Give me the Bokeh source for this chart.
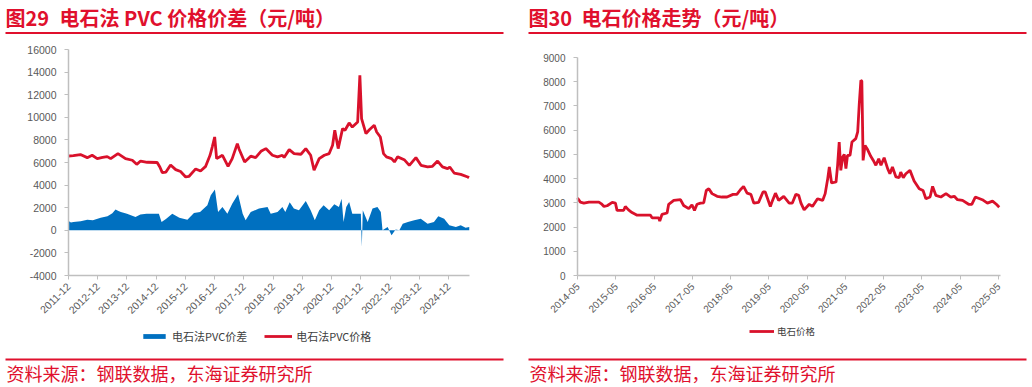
from bokeh.plotting import figure
from bokeh.models import Range1d, FixedTicker, Legend, LegendItem, Label, Arrow
from bokeh.layouts import row
from bokeh.embed import file_html
from bokeh.resources import INLINE

# ---------------- data: left chart (months since 2011-12) ----------------
pvc_month = [0, 2, 4.9, 7.7, 9.7, 11.8, 14, 15.9, 17.3, 20.3, 23.4, 26.2, 28, 29.6, 32.3, 36.4,
             37.5, 38.5, 40, 41.9, 44, 46, 48.1, 49.5, 52.2, 54.2, 56.3, 58.1, 59, 60, 60.8,
             63.2, 65.5, 67.2, 69.3, 70, 72.3, 74.8, 76.8, 79, 81, 83.7, 85.8, 87.8, 88.5,
             90.6, 92.6, 95.4, 97.4, 99.4, 100.8, 102.9, 105, 107, 108.4, 109.3, 110.7, 112.5,
             113.5, 115.2, 116.5, 118.7, 119.6, 120.3, 122.1, 123.5, 125.5, 126.5, 128, 129.3,
             130.5, 132.6, 133.8, 135.1, 137.8, 139.9, 142.6, 144.7, 147.4, 149.4, 151.5,
             153.5, 155.6, 156.5, 158.3, 161, 163.9, 164.4]
pvc_price = [6575, 6600, 6700, 6430, 6640, 6340, 6450, 6520, 6340, 6790, 6340, 6200, 5840, 6130,
             6020, 6000, 5600, 5100, 5150, 5780, 5370, 5200, 4720, 4780, 5430, 5250, 5660, 6640,
             7370, 8260, 6340, 6640, 5660, 6340, 7670, 7200, 6050, 6560, 6430, 6990, 7230, 6640,
             6500, 6640, 6450, 7140, 6790, 6730, 7230, 6640, 5310, 6340, 6640, 6790, 7520, 8850,
             7230, 9000, 8850, 9500, 9140, 9590, 13720, 9880, 8560, 8900, 9290, 8700, 8260, 6790,
             6500, 6340, 6050, 6500, 6250, 5750, 6430, 5750, 5610, 5660, 6130, 5610, 5460, 5600,
             5070, 4950, 4720, 4650]

spread_month = [0, 1, 2, 5, 7.7, 10, 13.2, 16, 18, 19.3, 20.5, 21.5, 24, 27.5, 29.5, 32, 37.1,
                38.2, 40, 42.6, 45.5, 48.8, 51.5, 54, 57, 58.4, 60.1, 61.4, 63.2, 65.2, 67.2,
                69.6, 71.5, 72.7, 74.8, 78.2, 81.7, 83, 85.8, 87.8, 89, 90.8, 92.5, 94.6, 97.4,
                99.4, 101.1, 102.9, 104.7, 107, 109.1, 111, 112.1, 112.9, 114, 115.2, 116.5,
                118.6, 120, 120.4, 120.8, 122.8, 124.8, 126.8, 128.2, 128.9, 131, 132.6, 134.3,
                135.8, 137.2, 139.3, 141.9, 144.6, 147.4, 150, 151.8, 154.2, 156.3, 159, 161,
                163, 164.5]
pvc_spread = [826, 700, 740, 800, 944, 900, 1120, 1240, 1500, 1830, 1700, 1620, 1475, 1180, 1390,
              1475, 1475, 740, 1000, 1475, 1120, 944, 1530, 1620, 2210, 3100, 3600, 1620, 2065,
              1475, 2360, 3186, 1475, 885, 1620, 1920, 2065, 1475, 1620, 2065, 1620, 2480, 1920,
              1770, 2600, 1770, 885, 1770, 2210, 1770, 2300, 2065, 2800, 740, 2065, 2500, 1475,
              1475, 1475, -1475, 1770, 740, 1920, 2065, 1620, 0, 295, -440, 60, 0, 590, 740, 885,
              1030, 590, 740, 1240, 1030, 440, 295, 440, 236, 295]

left_xtick_pos = [0, 12, 24, 36, 48, 60, 72, 84, 96, 108, 120, 132, 144, 156]
left_xtick_labels = ["2011-12", "2012-12", "2013-12", "2014-12", "2015-12", "2016-12", "2017-12",
                     "2018-12", "2019-12", "2020-12", "2021-12", "2022-12", "2023-12", "2024-12"]
left_ytick_vals = [-4000, -2000, 0, 2000, 4000, 6000, 8000, 10000, 12000, 14000, 16000]
left_ytick_labels = ["-4000", "-2000", "0", "2000", "4000", "6000", "8000", "10000", "12000",
                     "14000", "16000"]
left_x_end = 164.6
left_y_min, left_y_max = -4000, 16000

# ---------------- data: right chart (months since 2014-05) ----------------
cc_month = [0, 0.9, 2, 3.6, 6.7, 7.5, 8.3, 9.3, 10.9, 11.9, 12.4, 14.5, 15, 16, 17.1, 18.7, 20.4,
            22.9, 23.4, 25.5, 25.8, 26.5, 28.1, 28.6, 30.2, 32.3, 33.3, 34.9, 35.9, 36.7, 37.5,
            38.6, 39.6, 40.4, 41.2, 42.2, 43.8, 45.3, 46.9, 48.8, 50, 51.1, 52.1, 53.2, 54.4,
            55.3, 56.8, 58.2, 58.9, 60.5, 61, 62.1, 63.1, 64.7, 66.4, 67.4, 68.5, 69.4, 70.1,
            71.1, 72.7, 73.7, 75.3, 76.9, 77.7, 78.5, 79, 79.7, 81.1, 81.6, 82.1, 82.6, 83.2,
            83.7, 84.2, 84.7, 85.5, 86.1, 87.3, 87.9, 88.4, 88.9, 89.2, 89.6, 90.2, 91, 92, 92.8,
            93.6, 94.5, 95.2, 96.2, 97.3, 98, 98.8, 99.9, 100.9, 101.4, 102.2, 103, 104.3, 105.6,
            107.2, 108.4, 109.3, 110.6, 111.4, 112.4, 114, 115.6, 117.1, 118.2, 119.2, 120.8,
            122.7, 123.7, 124.8, 127, 128.6, 130.2, 131.4, 132.3]
cc_price = [3197, 3030, 2990, 3030, 3030, 2960, 2850, 2880, 3020, 2990, 2690, 2690, 2850, 2710,
            2600, 2490, 2490, 2490, 2380, 2380, 2250, 2520, 2580, 2940, 3100, 3130, 2890, 2760,
            2920, 2690, 2940, 2990, 3000, 3510, 3580, 3380, 3270, 3240, 3240, 3350, 3350, 3540,
            3680, 3400, 3350, 2990, 3020, 3450, 3450, 2850, 3030, 3400, 3100, 3270, 2990, 2990,
            3350, 3310, 2990, 2710, 2940, 2850, 3170, 3100, 3380, 4000, 4480, 3820, 3860, 4550,
            5510, 4340, 4890, 5000, 4410, 4960, 4960, 5510, 5650, 5930, 7100, 8060, 8030, 4750,
            5370, 5200, 4920, 4750, 4550, 4820, 4550, 4860, 4410, 4200, 4480, 4070, 4040, 4270,
            4040, 4200, 4340, 3900, 3580, 3510, 3170, 3240, 3680, 3310, 3240, 3380, 3240, 3270,
            3130, 3100, 2940, 2940, 3240, 3130, 2990, 3070, 2940, 2820]

right_xtick_pos = [0, 12, 24, 36, 48, 60, 72, 84, 96, 108, 120, 132]
right_xtick_labels = ["2014-05", "2015-05", "2016-05", "2017-05", "2018-05", "2019-05",
                      "2020-05", "2021-05", "2022-05", "2023-05", "2024-05", "2025-05"]
right_ytick_vals = [0, 1000, 2000, 3000, 4000, 5000, 6000, 7000, 8000, 9000]
right_ytick_labels = ["0", "1000", "2000", "3000", "4000", "5000", "6000", "7000", "8000", "9000"]
right_x_end = 132.7
right_y_min, right_y_max = 0, 9000

title_left = ("图29", "电石法 PVC 价格价差（元/吨）")
title_right = ("图30", "电石价格走势（元/吨）")
source_text = "资料来源：钢联数据，东海证券研究所"
legend_spread = "电石法PVC价差"
legend_pvc = "电石法PVC价格"
legend_cc = "电石价格"

# ---------------- style / layout (pixels) ----------------
RED_TXT = "#e0102d"
RED_LINE = "#d9112b"
BLUE = "#0070c0"
AXIS = "#bfbfbf"
LABEL = "#595959"
CJK = "Noto Sans CJK SC"
LAT = "Liberation Sans"
PANEL_W = 515
PANEL_H = 385


def up(py):
    """convert a pixel distance from the canvas top into Bokeh screen y (from bottom)"""
    return PANEL_H - py


def make_panel(x_end, y_min, y_max, plot_left, plot_right, plot_top, plot_bottom):
    """Frame covers the whole canvas; the data box sits at the given pixel box."""
    sx = (plot_right - plot_left) / x_end
    sy = (plot_bottom - plot_top) / (y_max - y_min)
    xr = Range1d(-plot_left / sx, x_end + (PANEL_W - plot_right) / sx)
    yr = Range1d(y_min - (PANEL_H - plot_bottom) / sy, y_max + plot_top / sy)
    p = figure(width=PANEL_W, height=PANEL_H, x_range=xr, y_range=yr, min_border=0,
               toolbar_location=None, output_backend="svg")
    p.grid.visible = False
    p.outline_line_color = None
    return p


def style_axes(p, xpos, xlabels, yvals, ylabels, x_end, y_min, y_max, fs_y, fs_x):
    p.xaxis.fixed_location = y_min
    p.yaxis.fixed_location = 0
    p.xaxis.bounds = (0, x_end)
    p.yaxis.bounds = (y_min, y_max)
    p.xaxis.ticker = FixedTicker(ticks=xpos)
    p.xaxis.major_label_overrides = {k: v for k, v in zip(xpos, xlabels)}
    p.yaxis.ticker = FixedTicker(ticks=yvals)
    p.yaxis.major_label_overrides = {k: v for k, v in zip(yvals, ylabels)}
    p.xaxis.major_label_orientation = 0.785398
    for ax in (p.xaxis, p.yaxis):
        ax.axis_line_color = AXIS
        ax.axis_line_width = 1.5
        ax.major_tick_line_color = AXIS
        ax.major_tick_in = 0
        ax.major_tick_out = 4
        ax.minor_tick_line_color = None
        ax.major_label_text_color = LABEL
        ax.major_label_text_font = LAT
    p.yaxis.major_label_standoff = 8
    p.xaxis.major_label_standoff = 5
    p.yaxis.major_label_text_font_size = fs_y
    p.xaxis.major_label_text_font_size = fs_x


def decorate(p, title, x_left, x_right, x_title2):
    for txt, xx in ((title[0], x_left), (title[1], x_title2)):
        p.add_layout(Label(x=xx, y=up(16.7), x_units="screen", y_units="screen", text=txt,
                           text_font=CJK, text_font_style="bold", text_font_size="20px",
                           text_color=RED_TXT, text_baseline="middle", text_align="left"))
    for yy in (up(32.5), up(359)):
        p.add_layout(Arrow(x_start=x_left, y_start=yy, x_end=x_right, y_end=yy,
                           start_units="screen", end_units="screen", start=None, end=None,
                           line_color=RED_TXT, line_width=2))
    p.add_layout(Label(x=x_left + 1, y=up(372.5), x_units="screen", y_units="screen",
                       text=source_text, text_font=CJK, text_font_size="18px",
                       text_color=RED_TXT, text_baseline="middle", text_align="left"))


# ---------------- left panel ----------------
pL = make_panel(left_x_end, left_y_min, left_y_max, 68, 469, 49, 275)
style_axes(pL, left_xtick_pos, left_xtick_labels, left_ytick_vals, left_ytick_labels,
           left_x_end, left_y_min, left_y_max, "10.5px", "10.5px")
r_spread = pL.varea(x=spread_month, y1=0, y2=pvc_spread, fill_color=BLUE)
r_pvc = pL.line(pvc_month, pvc_price, line_color=RED_LINE, line_width=2.8)
legL = Legend(items=[LegendItem(label=legend_spread, renderers=[r_spread]),
                     LegendItem(label=legend_pvc, renderers=[r_pvc])],
              orientation="horizontal", location=(140, up(344)), border_line_color=None,
              background_fill_alpha=0, label_text_font=CJK, label_text_font_size="11px",
              label_text_color="#404040", glyph_width=28, glyph_height=6, label_height=12,
              label_standoff=4, spacing=17, padding=0, margin=0)
pL.add_layout(legL, "center")
decorate(pL, title_left, 5, 503, 59)

# ---------------- right panel ----------------
pR = make_panel(right_x_end, right_y_min, right_y_max, 62, 485, 57, 275)
style_axes(pR, right_xtick_pos, right_xtick_labels, right_ytick_vals, right_ytick_labels,
           right_x_end, right_y_min, right_y_max, "10px", "10px")
r_cc = pR.line(cc_month, cc_price, line_color=RED_LINE, line_width=2.8)
legR = Legend(items=[LegendItem(label=legend_cc, renderers=[r_cc])],
              orientation="horizontal", location=(234, up(338)), border_line_color=None,
              background_fill_alpha=0, label_text_font=CJK, label_text_font_size="9.5px",
              label_text_color="#404040", glyph_width=25, glyph_height=6, label_height=12,
              label_standoff=3, spacing=10, padding=0, margin=0)
pR.add_layout(legR, "center")
decorate(pR, title_right, 13, 511, 66)

layout = row(pL, pR)
open("out.html", "w").write(file_html(layout, INLINE))
